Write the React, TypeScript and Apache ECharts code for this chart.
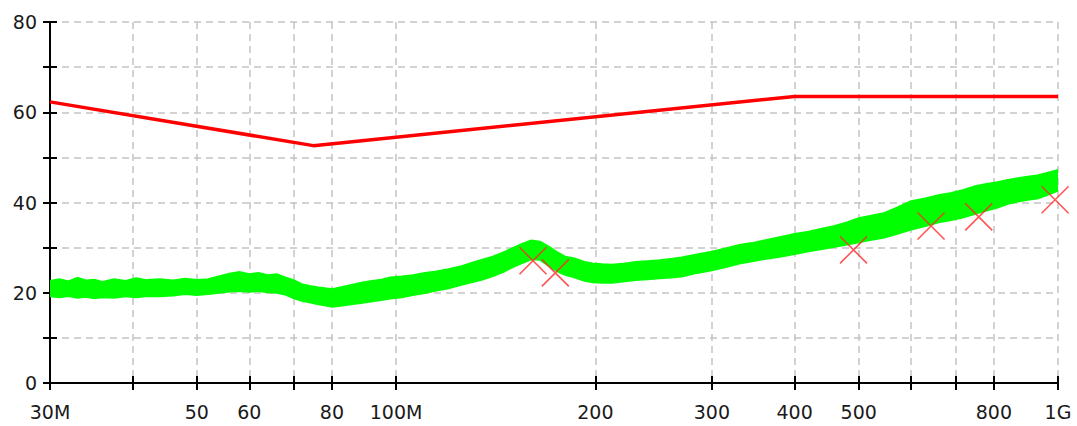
import React, { useEffect, useRef } from "react";
import * as echarts from "echarts";

// Frequencies in MHz, levels in dBµV/m
const TICK_FREQS = [30, 40, 50, 60, 70, 80, 100, 200, 300, 400, 500, 600, 700, 800, 1000];
const LABEL_FREQS = [30, 50, 60, 80, 100, 200, 300, 400, 500, 800, 1000];
const LABEL_TEXT: Record<number, string> = {
  30: "30M", 50: "50", 60: "60", 80: "80", 100: "100M", 200: "200",
  300: "300", 400: "400", 500: "500", 800: "800", 1000: "1G",
};

const LIMIT_FREQ = [30, 75, 400, 1000];
const LIMIT_DB = [62.3, 52.6, 63.5, 63.5];

const TRACE_FREQ = [
  30, 31, 32, 33, 34, 35, 36, 37.5, 39, 40.5, 42, 44, 46, 48, 50, 52, 54, 56, 58, 60,
  62, 64, 66, 68, 70, 72, 74, 76, 78, 80, 83, 86, 89, 92, 95, 98, 102, 106, 110, 115,
  120, 125, 130, 135, 140, 145, 150, 155, 160, 165, 170, 175, 180, 186, 192, 198, 205, 212, 220, 230,
  240, 250, 260, 270, 285, 300, 315, 330, 345, 360, 380, 400, 420, 440, 460, 480, 500, 520, 545, 570,
  600, 630, 660, 690, 720, 750, 780, 810, 840, 870, 900, 930, 960, 1000,
];
const TRACE_UPPER = [
  22.6, 23.0, 22.5, 23.3, 22.7, 22.9, 22.4, 23.0, 22.6, 23.2, 22.8, 23.0, 22.7, 23.1, 22.8, 23.0, 23.6, 24.2, 24.6, 24.1,
  24.4, 23.9, 24.1, 23.4, 22.8, 21.9, 21.5, 21.2, 21.0, 20.8, 21.3, 21.8, 22.3, 22.6, 22.9, 23.4, 23.6, 23.9, 24.3, 24.7,
  25.2, 25.8, 26.6, 27.3, 28.0, 28.9, 29.9, 30.8, 31.6, 31.3, 30.2, 29.0, 28.0, 27.6, 26.9, 26.5, 26.3, 26.2, 26.4, 26.8,
  27.0, 27.2, 27.5, 27.8, 28.5, 29.1, 29.8, 30.6, 31.0, 31.6, 32.3, 33.0, 33.5, 34.2, 34.8, 35.6, 36.5, 37.0, 37.6, 38.8,
  40.3, 40.9, 41.6, 42.1, 42.8, 43.6, 44.1, 44.5, 45.0, 45.4, 45.7, 46.0, 46.5, 47.2,
];
const TRACE_LOWER = [
  19.2, 19.0, 19.3, 18.9, 19.1, 18.8, 19.0, 18.9, 19.2, 19.0, 19.3, 19.2, 19.4, 19.7, 19.5, 19.7, 20.0, 20.3, 20.4, 20.2,
  20.4, 20.1, 20.0, 19.6, 18.8, 18.2, 17.9, 17.5, 17.2, 16.9, 17.2, 17.5, 17.8, 18.1, 18.4, 18.7, 19.0, 19.5, 19.9, 20.5,
  21.0, 21.7, 22.3, 22.9, 23.7, 24.6, 25.7, 26.6, 27.4, 27.3, 26.0, 24.8, 24.0, 23.4, 22.7, 22.3, 22.2, 22.2, 22.5, 22.8,
  23.0, 23.2, 23.4, 23.6, 24.4, 25.0, 25.7, 26.5, 27.0, 27.5, 28.0, 28.6, 29.2, 29.7, 30.2, 30.7, 31.2, 31.7, 32.2, 33.0,
  34.0, 34.8, 35.6, 36.1, 36.7, 37.5, 38.2, 38.9, 39.7, 40.2, 40.6, 40.9, 41.6, 42.6,
];

const MARKER_FREQ = [161, 174, 491, 643, 759, 990];
const MARKER_DB = [27.1, 24.4, 29.5, 34.8, 36.8, 40.6];

const lg = (f: number) => Math.log10(f);

export default function App() {
  const ref = useRef<HTMLDivElement>(null);
  useEffect(() => {
    if (!ref.current) return;
    const chart = echarts.init(ref.current, null, { renderer: "svg" });
    const labelFont = {
      fontFamily: "DejaVu Sans, Verdana, sans-serif",
      fontSize: 19,
      color: "#1a1a1a",
    };
    const gridLine = { show: true, lineStyle: { color: "#c4c4c4", width: 1.5, type: [7, 5] as any } };
    const xMin = lg(30);
    const xMax = lg(1000);
    const tickVals = TICK_FREQS.map(lg);
    const labelVals = LABEL_FREQS.map(lg);
    const fmtX = (v: number) => {
      const f = Math.round(Math.pow(10, v));
      return LABEL_TEXT[f] ?? "";
    };
    const axisLine = { show: true, lineStyle: { color: "#000", width: 2 } };
    const bandData = TRACE_FREQ.map((f, i) => [lg(f), TRACE_UPPER[i], TRACE_LOWER[i]]);
    chart.setOption({
      animation: false,
      grid: { left: 50, right: 19, top: 22, bottom: 43, containLabel: false },
      xAxis: [
        {
          type: "value",
          min: xMin,
          max: xMax,
          position: "bottom",
          axisLine,
          axisTick: { show: true, customValues: tickVals, length: 7, lineStyle: { color: "#000", width: 2 } },
          axisLabel: { ...labelFont, customValues: labelVals, formatter: fmtX, margin: 19, showMinLabel: true, showMaxLabel: true, hideOverlap: false },
          splitLine: gridLine,
        },
        {
          type: "value",
          min: xMin,
          max: xMax,
          position: "bottom",
          axisLine,
          axisTick: { show: true, inside: true, customValues: tickVals, length: 7, lineStyle: { color: "#000", width: 2 } },
          axisLabel: { show: false },
          splitLine: { show: false },
        },
      ],
      yAxis: [
        {
          type: "value",
          min: 0,
          max: 80,
          interval: 10,
          position: "left",
          axisLine,
          axisTick: { show: true, length: 7, lineStyle: { color: "#000", width: 2 } },
          axisLabel: { ...labelFont, margin: 13, formatter: (v: number) => (v % 20 === 0 ? String(v) : "") },
          splitLine: gridLine,
        },
        {
          type: "value",
          min: 0,
          max: 80,
          interval: 10,
          position: "left",
          axisLine,
          axisTick: { show: true, inside: true, length: 7, lineStyle: { color: "#000", width: 2 } },
          axisLabel: { show: false },
          splitLine: { show: false },
        },
      ],
      series: [
        {
          type: "custom",
          name: "trace",
          silent: true,
          clip: true,
          encode: { x: 0, y: [1, 2] },
          data: bandData,
          renderItem: (params: any, api: any) => {
            if (params.dataIndex !== 0) return null;
            const top = bandData.map((d) => api.coord([d[0], d[1]]));
            const bottom = bandData.map((d) => api.coord([d[0], d[2]])).reverse();
            return {
              type: "polygon",
              shape: { points: top.concat(bottom) },
              style: { fill: "#00ff00", stroke: "#00ff00", lineWidth: 2 },
            };
          },
          z: 3,
        },
        {
          type: "line",
          name: "limit",
          symbol: "none",
          silent: true,
          lineStyle: { color: "#ff0000", width: 3.5 },
          data: LIMIT_FREQ.map((f, i) => [lg(f), LIMIT_DB[i]]),
          z: 4,
        },
        {
          type: "scatter",
          name: "peaks",
          symbol: "path://M0 0L10 10M10 0L0 10",
          symbolSize: 27,
          silent: true,
          itemStyle: { color: "rgba(0,0,0,0)", borderColor: "#ff2a2a", borderWidth: 1.6 },
          data: MARKER_FREQ.map((f, i) => [lg(f), MARKER_DB[i]]),
          z: 5,
        },
      ],
    });
    return () => chart.dispose();
  }, []);
  return (
    <div
      ref={ref}
      style={{ position: "fixed", left: 0, top: 0, width: 1077, height: 426, background: "#fff" }}
    />
  );
}
